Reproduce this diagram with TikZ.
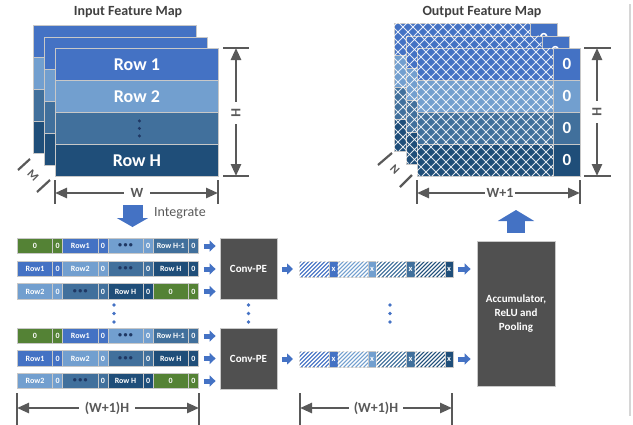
\documentclass[tikz,border=0pt]{standalone}
\usepackage{fontspec}
\setmainfont{Carlito}
\usetikzlibrary{arrows.meta}

\definecolor{blueA}{HTML}{4472C4}
\definecolor{blueB}{HTML}{729FCF}
\definecolor{blueC}{HTML}{41709C}
\definecolor{blueD}{HTML}{1F4E79}
\definecolor{greenA}{HTML}{548235}
\definecolor{boxgray}{HTML}{505050}
\definecolor{dimgray}{HTML}{595959}
\definecolor{titlegray}{HTML}{404040}
\definecolor{edge}{HTML}{C8C8C8}
\definecolor{framegray}{HTML}{D6D6D6}
\definecolor{dotnavy}{HTML}{1F3864}

\newcommand\celldots{{\color{dotnavy}\textbullet\,\textbullet\,\textbullet}}

% one row of eight cells: big/small pairs, each pair in one colour
\newcommand\cellrow[3]{%
  \foreach \c/\t [count=\k] in {#3}{%
    \node[bigcell, fill=\c] (#1-b\k) at ({17+45.25*(\k-1)},#2) {\t};
    \node[smallcell, fill=\c] (#1-s\k) at ({17+45.25*(\k-1)+35.25},#2) {0};
  }%
}

% one striped output bar: four hatched segments, each followed by an x cell
\newcommand\hatchbar[2]{%
  \foreach \c [count=\k] in {blueA,blueB,blueC,blueD}{%
    \node[hatchcell, fill=\c] (#1-h\k) at ({299+38.5*(\k-1)},#2) {};
    \begin{scope}
      \clip (#1-h\k.south west) rectangle (#1-h\k.north east);
      \foreach \d in {-20,-16,...,32}
        \draw[white, line width=1.4pt] ([xshift=\d pt]#1-h\k.south west) -- ++(20,-20);
    \end{scope}
    \node[xcell, fill=\c] (#1-x\k) at ({299+38.5*(\k-1)+30},#2) {x};
  }%
}

\begin{document}
\begin{tikzpicture}[x=1pt,y=-1pt,
  title/.style={text=titlegray, font=\fontsize{14}{16}\selectfont\bfseries, inner sep=0pt},
  inrow/.style={draw=edge, line width=0.8pt, minimum width=163pt, minimum height=32pt,
    inner sep=0pt, anchor=north west, text=white, font=\fontsize{18}{20}\selectfont\bfseries},
  outrow/.style={draw=edge, line width=0.8pt, minimum width=136pt, minimum height=32pt,
    inner sep=0pt, anchor=north west},
  zerocell/.style={draw=edge, line width=0.8pt, minimum width=27pt, minimum height=32pt,
    inner sep=0pt, anchor=north west, text=white, font=\fontsize{17}{18}\selectfont\bfseries},
  crossline/.style={draw=white, line width=0.75pt, opacity=0.85},
  bigcell/.style={draw=edge, line width=0.8pt, minimum width=35.25pt, minimum height=15.5pt,
    inner sep=0pt, anchor=west, text=white, font=\fontsize{8}{9}\selectfont\bfseries},
  smallcell/.style={bigcell, minimum width=10pt},
  hatchcell/.style={draw=edge, line width=0.8pt, minimum width=30pt, minimum height=16pt,
    inner sep=0pt, anchor=west},
  xcell/.style={hatchcell, minimum width=8.5pt, text=white, font=\fontsize{8.5}{9}\selectfont\bfseries},
  procbox/.style={fill=boxgray, draw=edge, line width=0.8pt, text=white, inner sep=0pt,
    font=\fontsize{11}{14}\selectfont\bfseries, align=center},
  dimtick/.style={draw=dimgray, line width=2.6pt},
  dimarrow/.style={draw=dimgray, line width=2.6pt, -{Triangle[length=12pt,width=10pt]}},
  dimlabel/.style={text=dimgray, font=\fontsize{14}{14}\selectfont\bfseries, inner sep=0pt},
  fatarrow/.style={draw=blueA, line width=5pt, -{Triangle[length=6pt,width=11pt]}},
  flowdot/.style={fill=blueA},
]
\useasboundingbox (0,0) rectangle (633,424);

% thin frame line on the right
\draw[framegray, line width=1.2pt] (630,4) -- (630,416);

% ---------------- input feature map ----------------
\node[title] (tin) at (128,12) {Input Feature Map};
\foreach \sx/\sy/\nm in {33/25/inA,44/36.5/inB}{
  \foreach \c [count=\k] in {blueA,blueB,blueC,blueD}{
    \node[inrow, fill=\c] (\nm-\k) at (\sx,{\sy+32*(\k-1)}) {};
  }
}
\node[inrow, fill=blueA] (in-1) at (55,48) {Row 1};
\node[inrow, fill=blueB] (in-2) at (55,80) {Row 2};
\node[inrow, fill=blueC] (in-3) at (55,112) {};
\node[inrow, fill=blueD] (in-4) at (55,144) {Row H};
\foreach \yy in {-7.5,0,7.5}
  \fill[dotnavy] (in-3.center) ++(2.5,\yy) circle (1.7pt);

% height of the input map
\draw[dimtick] (223,48) -- (249,48);
\draw[dimtick] (223,176) -- (249,176);
\coordinate (ih-t) at (236,48);
\coordinate (ih-b) at (236,176);
\node[dimlabel, rotate=-90, outer sep=7pt] (ih) at (236,113) {H};
\draw[dimarrow] (ih) -- (ih-t);
\draw[dimarrow] (ih) -- (ih-b);

% width of the input map
\draw[dimtick] (55,180) -- (55,204);
\draw[dimtick] (218,180) -- (218,204);
\coordinate (iw-l) at (55,193);
\coordinate (iw-r) at (218,193);
\node[dimlabel, outer sep=7pt] (iw) at (137,193) {W};
\draw[dimarrow] (iw) -- (iw-l);
\draw[dimarrow] (iw) -- (iw-r);

% depth of the input map
\draw[dimtick, line width=2.2pt] (18,170) -- (30,159);
\draw[dimtick, line width=2.2pt] (37,192) -- (50,180);
\node[dimlabel, font=\fontsize{12}{12}\selectfont\bfseries, rotate=-45] (im) at (33,175) {M};

% integration step
\coordinate (int-a) at (132.5,205);
\coordinate (int-b) at (132.5,227);
\draw[draw=blueA, line width=20pt, -{Triangle[length=9pt,width=31pt]}] (int-a) -- (int-b);
\node[anchor=west, text=dimgray, font=\fontsize{14}{16}\selectfont, inner sep=0pt] (integ) at (154,213) {Integrate};

% ---------------- output feature map ----------------
\node[title] (tout) at (482,12) {Output Feature Map};
\foreach \sx/\sy/\nm in {394/23/outA,405.5/35.5/outB,417/48/outC}{
  \foreach \c [count=\k] in {blueA,blueB,blueC,blueD}{
    \node[outrow, fill=\c] (\nm-h\k) at (\sx,{\sy+32*(\k-1)}) {};
    \node[zerocell, fill=\c] (\nm-z\k) at ({\sx+136},{\sy+32*(\k-1)}) {0};
  }
  \begin{scope}
    \clip (\sx,\sy) rectangle ++(136,128);
    \foreach \d in {-135,-125,...,140}{
      \draw[crossline] ({\sx+\d},\sy) -- ++(128,128);
      \draw[crossline] ({\sx+\d},{\sy+128}) -- ++(128,-128);
    }
  \end{scope}
}

% height of the output map
\draw[dimtick] (584,48) -- (611,48);
\draw[dimtick] (584,176) -- (611,176);
\coordinate (oh-t) at (597,48);
\coordinate (oh-b) at (597,176);
\node[dimlabel, rotate=-90, outer sep=7pt] (oh) at (597,112) {H};
\draw[dimarrow] (oh) -- (oh-t);
\draw[dimarrow] (oh) -- (oh-b);

% width of the output map
\draw[dimtick] (417,180) -- (417,204);
\draw[dimtick] (580,180) -- (580,204);
\coordinate (ow-l) at (417,193);
\coordinate (ow-r) at (580,193);
\node[dimlabel, outer sep=2pt] (ow) at (500,193) {W+1};
\draw[dimarrow] (ow) -- (ow-l);
\draw[dimarrow] (ow) -- (ow-r);

% depth of the output map
\draw[dimtick, line width=2.2pt] (378,165) -- (392,153);
\draw[dimtick, line width=2.2pt] (400,187) -- (412,175);
\node[dimlabel, font=\fontsize{12}{12}\selectfont\bfseries, rotate=-45] (on) at (395,170) {N};

% ---------------- integrated rows ----------------
\cellrow{ga1}{246}{greenA/0, blueA/Row1, blueB/\celldots, blueC/Row H-1}
\cellrow{ga2}{269}{blueA/Row1, blueB/Row2, blueC/\celldots, blueD/Row H}
\cellrow{ga3}{291.5}{blueB/Row2, blueC/\celldots, blueD/Row H, greenA/0}
\cellrow{gb1}{336}{greenA/0, blueA/Row1, blueB/\celldots, blueC/Row H-1}
\cellrow{gb2}{358.5}{blueA/Row1, blueB/Row2, blueC/\celldots, blueD/Row H}
\cellrow{gb3}{381}{blueB/Row2, blueC/\celldots, blueD/Row H, greenA/0}

% processing elements
\node[procbox, minimum width=57pt, minimum height=61pt] (pe1) at (248.5,268.5) {Conv-PE};
\node[procbox, minimum width=57pt, minimum height=61pt] (pe2) at (248.5,358.5) {Conv-PE};

% partial output rows
\hatchbar{ba}{269}
\hatchbar{bb}{359}

% accumulator
\node[procbox, minimum width=78pt, minimum height=145pt] (acc) at (516,313.5) {Accumulator,\\ReLU and\\Pooling};

% vertical ellipses between the two groups
\foreach \yy in {305,313.5,322}{
  \fill[flowdot] (114,\yy) circle (1.8pt);
  \fill[flowdot] (248.5,\yy) circle (1.8pt);
  \fill[flowdot] (390,\yy) circle (1.8pt);
}

% data flow
\foreach \r in {ga1,ga2,ga3}
  \draw[fatarrow, shorten <=5pt, shorten >=4pt] (\r-s4.east) -- (\r-s4.east -| pe1.west);
\foreach \r in {gb1,gb2,gb3}
  \draw[fatarrow, shorten <=5pt, shorten >=4pt] (\r-s4.east) -- (\r-s4.east -| pe2.west);
\draw[fatarrow, shorten <=5pt, shorten >=6pt] (pe1.east |- ba-h1.west) -- (ba-h1.west);
\draw[fatarrow, shorten <=5pt, shorten >=6pt] (pe2.east |- bb-h1.west) -- (bb-h1.west);
\draw[fatarrow, shorten <=4pt, shorten >=6pt] (ba-x4.east) -- (ba-x4.east -| acc.west);
\draw[fatarrow, shorten <=4pt, shorten >=6pt] (bb-x4.east) -- (bb-x4.east -| acc.west);
\coordinate (up-tip) at (516,210);
\draw[draw=blueA, line width=18pt, -{Triangle[length=11pt,width=36pt]}, shorten <=8pt] (acc.north) -- (up-tip);

% lengths of the row streams
\draw[dimtick] (17,393) -- (17,426);
\draw[dimtick] (199,393) -- (199,426);
\coordinate (la-l) at (17,408);
\coordinate (la-r) at (199,408);
\node[dimlabel, outer sep=6pt] (la) at (107,408) {(W+1)H};
\draw[dimarrow] (la) -- (la-l);
\draw[dimarrow] (la) -- (la-r);

\draw[dimtick] (300,393) -- (300,426);
\draw[dimtick] (452,393) -- (452,426);
\coordinate (lb-l) at (300,408);
\coordinate (lb-r) at (452,408);
\node[dimlabel, outer sep=5pt] (lb) at (376,408) {(W+1)H};
\draw[dimarrow] (lb) -- (lb-l);
\draw[dimarrow] (lb) -- (lb-r);
\end{tikzpicture}
\end{document}
